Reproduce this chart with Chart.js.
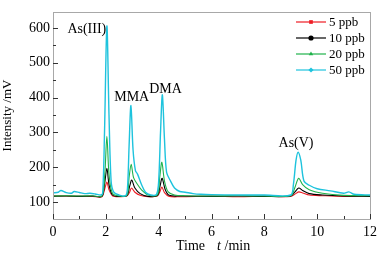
<!DOCTYPE html>
<html lang="zh">
<head>
    <meta charset="UTF-8">
    <title>As speciation chromatogram</title>
    <script src="https://cdn.jsdelivr.net/npm/chart.js"></script>
    <style>
        body { margin: 0; background: #ffffff; }
        #wrap { width: 387px; height: 259px; }
    </style>
</head>
<body>
    <div id="wrap"><canvas id="chart"></canvas></div>

    <script>
        // 5 ppb
        const t5 = [0, 0.5, 1.0, 1.5, 1.85, 1.95, 2.04, 2.12, 2.25, 2.5, 2.8, 2.9, 2.97, 3.1, 3.3, 3.6, 3.95, 4.05, 4.12, 4.22, 4.4, 4.8, 6, 7, 8, 9.0, 9.15, 9.3, 9.45, 9.7, 10.2, 11, 12];
        const v5 = [118, 117, 116, 116, 115, 135, 157, 135, 118, 115, 117, 128, 140, 128, 119, 115, 117, 130, 143, 127, 116, 115, 116, 115, 116, 116, 122, 129, 126, 120, 118, 116, 117];
        // 10 ppb
        const t10 = [0, 0.5, 1.0, 1.5, 1.85, 1.95, 2.04, 2.12, 2.25, 2.5, 2.8, 2.9, 2.98, 3.1, 3.3, 3.6, 3.95, 4.05, 4.13, 4.25, 4.4, 4.8, 6, 7, 8, 9.0, 9.15, 9.3, 9.45, 9.7, 10.2, 11, 12];
        const v10 = [116, 117, 116, 117, 116, 150, 197, 150, 120, 116, 118, 145, 163, 140, 124, 116, 118, 145, 168, 135, 119, 117, 116, 117, 116, 117, 128, 140, 133, 124, 120, 117, 116];
        // 20 ppb
        const t20 = [0, 0.5, 1.0, 1.5, 1.85, 1.96, 2.04, 2.12, 2.25, 2.5, 2.8, 2.88, 2.96, 3.05, 3.2, 3.35, 3.6, 3.95, 4.04, 4.12, 4.22, 4.35, 4.6, 5, 6, 7, 8, 9.0, 9.15, 9.3, 9.45, 9.7, 10.2, 11, 12];
        const v20 = [117, 118, 117, 118, 117, 180, 289, 180, 125, 117, 119, 170, 208, 170, 150, 135, 120, 120, 170, 214, 160, 130, 120, 118, 117, 118, 117, 118, 140, 168, 150, 135, 125, 119, 118];
        // 50 ppb
        const t50 = [0, 0.2, 0.3, 0.5, 0.7, 0.8, 1.0, 1.2, 1.4, 1.6, 1.8, 1.88, 1.95, 2.04, 2.12, 2.2, 2.3, 2.5, 2.75, 2.82, 2.88, 2.95, 3.03, 3.12, 3.2, 3.35, 3.5, 3.7, 3.92, 4.0, 4.07, 4.14, 4.22, 4.3, 4.45, 4.6, 4.8, 5.0, 5.3, 5.6, 6, 7, 8, 9.0, 9.1, 9.2, 9.28, 9.38, 9.5, 9.7, 10.0, 10.5, 11.0, 11.2, 11.4, 12];
        const v50 = [126, 128, 133, 127, 125, 130, 127, 124, 125, 123, 120, 125, 300, 606, 350, 160, 128, 120, 118, 140, 260, 377, 250, 190, 180, 150, 128, 120, 122, 160, 300, 408, 280, 185, 160, 140, 130, 128, 124, 122, 121, 120, 120, 120, 150, 220, 243, 220, 160, 148, 138, 132, 125, 129, 122, 120];

        const seriesLabels = ['5 ppb', '10 ppb', '20 ppb', '50 ppb'];
        const xTicks = [0, 2, 4, 6, 8, 10, 12];
        const yTicks = [100, 200, 300, 400, 500, 600];
        const peakNames = ['As(III)', 'MMA', 'DMA', 'As(V)'];
        const peakAt = [[1.28, 597], [2.98, 400], [4.26, 423], [9.2, 269]];

        const colors = ['#ee1c24', '#000000', '#1fb24a', '#1ec3dd'];
        const markers = ['rect', 'circle', 'triangle', 'rectRot'];
        const font = 'Liberation Serif';

        const pairs = (ts, vs) => ts.map((t, i) => ({ x: t, y: vs[i] }));
        const allData = [pairs(t5, v5), pairs(t10, v10), pairs(t20, v20), pairs(t50, v50)];

        const datasets = allData.map((d, i) => ({
            label: seriesLabels[i],
            data: d,
            borderColor: colors[i],
            backgroundColor: colors[i],
            borderWidth: i === 3 ? 1.4 : 1.1,
            pointRadius: 0,
            pointStyle: markers[i],
            tension: 0.3,
            order: 3 - i
        }));

        // frame, inward ticks, legend, labels
        const extras = {
            id: 'extras',
            afterDraw(chart) {
                const ctx = chart.ctx;
                const a = chart.chartArea;
                const xs = chart.scales.x, ys = chart.scales.y;
                ctx.save();
                ctx.strokeStyle = '#a8a8a8';
                ctx.lineWidth = 1;
                ctx.strokeRect(a.left + 0.5, a.top + 0.5, a.right - a.left, a.bottom - a.top);
                ctx.strokeStyle = '#333';
                ctx.beginPath();
                for (let t = 0; t <= 12; t += 1) {
                    const px = Math.round(xs.getPixelForValue(t)) + 0.5;
                    const len = t % 2 === 0 ? 5 : 3;
                    ctx.moveTo(px, a.bottom); ctx.lineTo(px, a.bottom - len);
                }
                for (let v = 100; v <= 600; v += 50) {
                    const py = Math.round(ys.getPixelForValue(v)) + 0.5;
                    const len = v % 100 === 0 ? 5 : 3;
                    ctx.moveTo(a.left, py); ctx.lineTo(a.left + len, py);
                }
                ctx.stroke();

                // peak names
                ctx.fillStyle = '#000';
                ctx.font = '14px "' + font + '"';
                ctx.textAlign = 'center';
                ctx.textBaseline = 'middle';
                peakNames.forEach((n, i) => {
                    ctx.fillText(n, xs.getPixelForValue(peakAt[i][0]), ys.getPixelForValue(peakAt[i][1]));
                });

                // legend
                ctx.font = '13px "' + font + '"';
                ctx.textAlign = 'left';
                chart.data.datasets.forEach((ds, i) => {
                    const y = 22 + i * 16;
                    ctx.strokeStyle = ds.borderColor;
                    ctx.lineWidth = 1.2;
                    ctx.beginPath();
                    ctx.moveTo(296, y); ctx.lineTo(326, y);
                    ctx.stroke();
                    ctx.fillStyle = ds.borderColor;
                    Chart.helpers.drawPoint(ctx, { pointStyle: ds.pointStyle, radius: 2.6, rotation: 0, borderWidth: 0 }, 311, y);
                    ctx.fillStyle = '#000';
                    ctx.fillText(ds.label, 329, y + 1);
                });

                // x title with italic t
                ctx.textBaseline = 'middle';
                ctx.font = '14px "' + font + '"';
                ctx.fillText('Time', 176, 246);
                ctx.font = 'italic 14px "' + font + '"';
                ctx.fillText('t', 217, 246);
                ctx.font = '14px "' + font + '"';
                ctx.fillText(' /min', 221, 246);
                ctx.restore();
            }
        };

        new Chart(document.getElementById('chart'), {
            type: 'line',
            data: { datasets: datasets },
            options: {
                responsive: true,
                maintainAspectRatio: false,
                animation: false,
                layout: { padding: { top: 12, right: 17, left: 0, bottom: 0 } },
                plugins: { legend: { display: false }, tooltip: { enabled: false } },
                scales: {
                    x: {
                        type: 'linear', min: 0, max: 12,
                        afterBuildTicks: s => { s.ticks = xTicks.map(v => ({ value: v })); },
                        afterFit: s => { s.height = 40; },
                        grid: { display: false, drawTicks: false },
                        border: { display: false },
                        ticks: { color: '#000', padding: 5, font: { family: font, size: 14 }, maxRotation: 0 },
                        title: { display: false }
                    },
                    y: {
                        min: 51, max: 646,
                        afterBuildTicks: s => { s.ticks = yTicks.map(v => ({ value: v })); },
                        afterFit: s => { s.width = 53; },
                        grid: { display: false, drawTicks: false },
                        border: { display: false },
                        ticks: { color: '#000', padding: 3, font: { family: font, size: 14 } },
                        title: { display: true, text: 'Intensity /mV', color: '#000', padding: 0, font: { family: font, size: 13 } }
                    }
                }
            },
            plugins: [extras]
        });
    </script>
</body>
</html>
